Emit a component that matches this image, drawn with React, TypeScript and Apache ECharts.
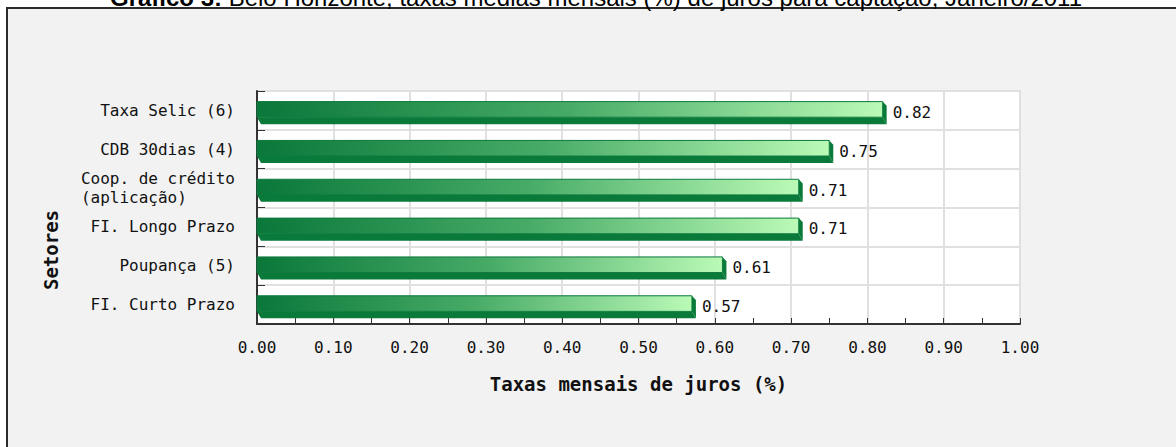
import React, { useEffect, useRef } from "react";
import * as echarts from "echarts";

const categories = [
  "Taxa Selic (6)",
  "CDB 30dias (4)",
  "Coop. de crédito\n(aplicação)",
  "FI. Longo Prazo",
  "Poupança (5)",
  "FI. Curto Prazo",
];
const values = [0.82, 0.75, 0.71, 0.71, 0.61, 0.57];
const titleBold = "Gráfico 3:";
const titleRest = " Belo Horizonte, taxas médias mensais (%) de juros para captação, Janeiro/2011";
const xAxisName = "Taxas mensais de juros (%)";
const yAxisName = "Setores";

const MONO = "'DejaVu Sans Mono', monospace";

export default function App() {
  const ref = useRef<HTMLDivElement>(null);
  useEffect(() => {
    if (!ref.current) return;
    const chart = echarts.init(ref.current, null, { renderer: "svg" });
    const faceGrad = () =>
      new echarts.graphic.LinearGradient(0, 0, 1, 0, [
        { offset: 0, color: "#0a783a" },
        { offset: 0.5, color: "#47ab67" },
        { offset: 1, color: "#bafab6" },
      ]);
    chart.setOption({
      animation: false,
      backgroundColor: "#ffffff",
      graphic: [
        {
          type: "rect",
          z: -10,
          silent: true,
          shape: { x: 7, y: 8, width: 1180, height: 460 },
          style: { fill: "#f2f2f2" },
        },
        {
          type: "polyline",
          z: -9,
          silent: true,
          shape: { points: [[7, 460], [7, 8], [1176, 8]] },
          style: { stroke: "#2a2a2a", lineWidth: 2, fill: "none" },
        },
        {
          type: "text",
          x: 596,
          y: -3,
          silent: true,
          style: {
            text: `{b|${titleBold}}{n|${titleRest}}`,
            align: "center",
            verticalAlign: "middle",
            rich: {
              b: { fontFamily: "'Liberation Sans', Arial, sans-serif", fontSize: 24, fontWeight: "bold", fill: "#000" },
              n: { fontFamily: "'Liberation Sans', Arial, sans-serif", fontSize: 24, fill: "#000" },
            },
          },
        },
        {
          type: "text",
          x: 51,
          y: 250,
          rotation: Math.PI / 2,
          silent: true,
          style: {
            text: yAxisName,
            align: "center",
            verticalAlign: "middle",
            fontFamily: MONO,
            fontWeight: "bold",
            fontSize: 19,
            fill: "#111",
          },
        },
      ],
      grid: {
        left: 257,
        right: 156,
        top: 91,
        bottom: 123,
        show: true,
        backgroundColor: "#ffffff",
        borderColor: "#e0e0e0",
        borderWidth: 2,
      },
      xAxis: {
        type: "value",
        min: 0,
        max: 1,
        interval: 0.1,
        name: xAxisName,
        nameLocation: "middle",
        nameGap: 50,
        nameTextStyle: { fontFamily: MONO, fontWeight: "bold", fontSize: 19, color: "#111" },
        axisLine: { show: true, lineStyle: { color: "#333", width: 2 } },
        axisTick: { show: true, inside: true, length: 6, lineStyle: { color: "#333", width: 1 } },
        minorTick: { show: true, splitNumber: 2, length: 6, lineStyle: { color: "#333", width: 1 } },
        splitLine: { show: true, lineStyle: { color: "#e0e0e0", width: 2 } },
        axisLabel: {
          formatter: (v: number) => v.toFixed(2),
          margin: 15,
          fontFamily: MONO,
          fontSize: 16,
          color: "#111",
        },
      },
      yAxis: {
        type: "category",
        inverse: true,
        data: categories,
        axisLine: { show: true, lineStyle: { color: "#333", width: 2 } },
        axisTick: { show: true, inside: true, length: 8, lineStyle: { color: "#333", width: 1 } },
        splitLine: { show: true, lineStyle: { color: "#e0e0e0", width: 2 } },
        axisLabel: {
          margin: 22,
          fontFamily: MONO,
          fontSize: 16,
          color: "#111",
          lineHeight: 19,
          formatter: (v: string) =>
            v.indexOf("\n") >= 0
              ? v
                  .split("\n")
                  .map((l) => `{a|${l}}`)
                  .join("\n")
              : v,
          rich: {
            a: { align: "left", fontFamily: MONO, fontSize: 16, color: "#111", lineHeight: 19 },
          },
        },
      },
      series: [
        {
          type: "custom",
          data: values.map((v, i) => [v, i]),
          encode: { x: 0, y: 1 },
          renderItem: (params: any, api: any) => {
            const v = api.value(0);
            const ci = api.value(1);
            const p0 = api.coord([0, ci]);
            const p1 = api.coord([v, ci]);
            const band = api.size([0, 1])[1];
            const cy = p0[1];
            const top = cy - band * 0.227;
            const bot = cy + band * 0.175;
            const dy = band * 0.18;
            const dx = 4;
            const x0 = p0[0];
            const x1 = p1[0];
            const dark = "#0a7a3a";
            return {
              type: "group",
              children: [
                {
                  type: "polygon",
                  shape: {
                    points: [
                      [x0, bot],
                      [x1, bot],
                      [x1 + dx, bot + dy],
                      [x0 + dx, bot + dy],
                    ],
                  },
                  style: { fill: dark },
                },
                {
                  type: "polygon",
                  shape: {
                    points: [
                      [x1, top],
                      [x1 + dx, top + dy * 0.6],
                      [x1 + dx, bot + dy],
                      [x1, bot],
                    ],
                  },
                  style: { fill: dark },
                },
                {
                  type: "rect",
                  shape: { x: x0, y: top, width: x1 - x0, height: bot - top },
                  style: { fill: faceGrad(), stroke: "#0b7a3c", lineWidth: 1 },
                },
                {
                  type: "text",
                  x: x1 + dx + 6,
                  y: cy + 2,
                  style: {
                    text: v.toFixed(2),
                    align: "left",
                    verticalAlign: "middle",
                    fontFamily: MONO,
                    fontSize: 16,
                    fill: "#111",
                  },
                },
              ],
            };
          },
        },
      ],
    });
    return () => chart.dispose();
  }, []);
  return (
    <div
      ref={ref}
      style={{ position: "absolute", left: 0, top: 0, width: 1176, height: 447 }}
    />
  );
}
